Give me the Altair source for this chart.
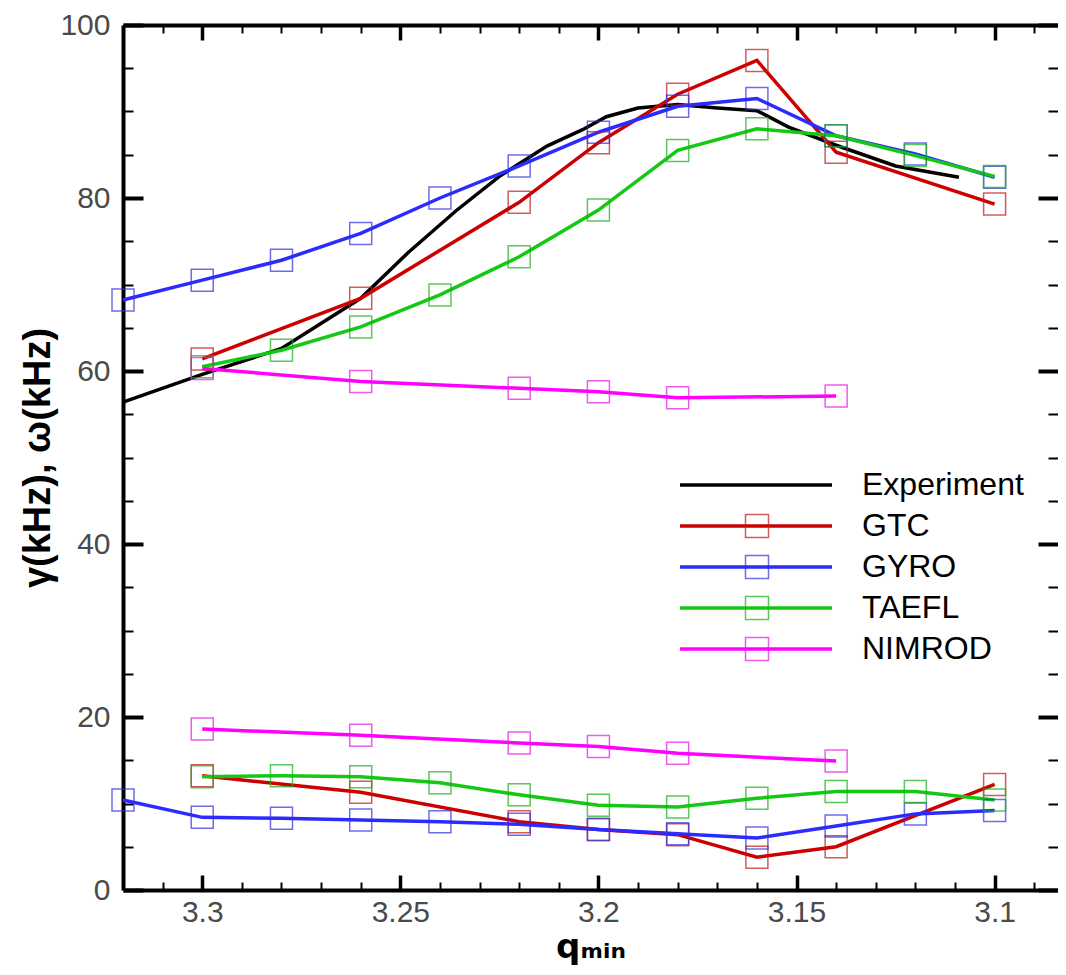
import altair as alt
import pandas as pd

SERIES = ["Experiment", "GTC", "GYRO", "TAEFL", "NIMROD"]
LINE_COLORS = ["#000000", "#cc0000", "#2b2bff", "#14c814", "#ff00ff"]
MARKER_COLORS = ["transparent", "#c01818", "#3030e0", "#18b018", "#e818e8"]

# Experiment (frequency only)
EXP_Q = [3.32, 3.30, 3.28, 3.26, 3.248, 3.236, 3.225, 3.213, 3.204, 3.198, 3.19,
         3.18, 3.17, 3.16, 3.152, 3.14, 3.125, 3.109]
EXP_W = [56.4, 59.6, 62.6, 68.4, 73.7, 78.5, 82.5, 86.0, 87.9, 89.4, 90.4,
         90.8, 90.4, 90.1, 88.2, 86.1, 83.7, 82.4]

GTC_Q = [3.3, 3.26, 3.22, 3.2, 3.18, 3.16, 3.14, 3.1]
GTC_W = [61.4, 68.4, 79.5, 86.4, 92.0, 95.9, 85.3, 79.3]
GTC_G = [13.2, 11.3, 7.9, 7.0, 6.4, 3.8, 5.0, 12.2]

GYRO_Q = [3.32, 3.3, 3.28, 3.26, 3.24, 3.22, 3.2, 3.18, 3.16, 3.14, 3.12, 3.1]
GYRO_W = [68.2, 70.5, 72.8, 75.9, 80.0, 83.7, 87.6, 90.6, 91.5, 87.2, 85.1, 82.4]
GYRO_G = [10.4, 8.4, 8.3, 8.1, 7.9, 7.6, 7.0, 6.5, 6.0, 7.4, 8.8, 9.2]

TAEFL_Q = [3.3, 3.28, 3.26, 3.24, 3.22, 3.2, 3.18, 3.16, 3.14, 3.12, 3.1]
TAEFL_W = [60.5, 62.4, 65.1, 68.8, 73.2, 78.6, 85.5, 88.0, 87.2, 84.9, 82.5]
TAEFL_G = [13.1, 13.2, 13.1, 12.4, 11.0, 9.8, 9.6, 10.6, 11.4, 11.4, 10.4]

NIMROD_Q = [3.3, 3.26, 3.22, 3.2, 3.18, 3.14]
NIMROD_W = [60.3, 58.8, 58.0, 57.6, 56.9, 57.1]
NIMROD_G = [18.6, 17.9, 17.0, 16.6, 15.8, 14.9]

X_MAJOR = [3.3, 3.25, 3.2, 3.15, 3.1]
X_MINOR = [3.31, 3.29, 3.28, 3.27, 3.26, 3.24, 3.23, 3.22, 3.21, 3.19, 3.18,
           3.17, 3.16, 3.14, 3.13, 3.12, 3.11, 3.09]
Y_MAJOR = [0, 20, 40, 60, 80, 100]
Y_MINOR = [5, 10, 15, 25, 30, 35, 45, 50, 55, 65, 70, 75, 85, 90, 95]
X_DOMAIN = [3.32, 3.084]
Y_DOMAIN = [0, 100]

rows = []
def add(series, branch, qs, vs, marker):
    for q, v in zip(qs, vs):
        rows.append({"series": series, "code": SERIES.index(series),
                     "branch": branch, "q": q, "v": v, "marker": marker})

add("Experiment", "w", EXP_Q, EXP_W, False)
add("GTC", "w", GTC_Q, GTC_W, True)
add("GTC", "g", GTC_Q, GTC_G, True)
add("GYRO", "w", GYRO_Q, GYRO_W, True)
add("GYRO", "g", GYRO_Q, GYRO_G, True)
add("TAEFL", "w", TAEFL_Q, TAEFL_W, True)
add("TAEFL", "g", TAEFL_Q, TAEFL_G, True)
add("NIMROD", "w", NIMROD_Q, NIMROD_W, True)
add("NIMROD", "g", NIMROD_Q, NIMROD_G, True)
df = pd.DataFrame(rows)
df_pts = df[df["marker"]]

xs = alt.Scale(domain=X_DOMAIN, nice=False, zero=False)
ys = alt.Scale(domain=Y_DOMAIN, nice=False, zero=False)

LABEL_FONT = "Liberation Sans"
LABEL_COLOR = "#4a4a4a"
TICK_FONT = 30

def plain(orient, values, size, width, offset):
    return alt.Axis(orient=orient, values=values, tickSize=size, tickWidth=width,
                    tickColor="black", offset=offset, domain=False, labels=False,
                    grid=False, title=None)

def frame(orient):
    return alt.Axis(orient=orient, ticks=False, labels=False, grid=False,
                    domain=True, domainColor="black", domainWidth=4, title=None)

LEG_X = 555
LEG_Y = 445
ROW_H = 30
ROW_PAD = 9
LEG_FONT = 32

lines = alt.Chart(df).mark_line(strokeWidth=3.5).encode(
    x=alt.X("q:Q", scale=xs, axis=alt.Axis(
        orient="bottom", values=X_MAJOR, format=".2~f", tickSize=15, tickWidth=3.5,
        tickColor="black", offset=-15, domain=False, grid=False,
        labelFont=LABEL_FONT, labelFontSize=TICK_FONT, labelColor=LABEL_COLOR,
        labelPadding=7, title="qₘᵢₙ", titleFont="DejaVu Sans", titleFontSize=34,
        titleFontWeight="bold", titleColor="black", titlePadding=3)),
    y=alt.Y("v:Q", scale=ys, axis=alt.Axis(
        orient="left", values=Y_MAJOR, format="d", tickSize=20, tickWidth=4,
        tickColor="black", offset=-20, domain=False, grid=False,
        labelFont=LABEL_FONT, labelFontSize=TICK_FONT, labelColor=LABEL_COLOR,
        labelPadding=13, title="γ(kHz), ω(kHz)", titleFont="Liberation Sans",
        titleFontSize=38, titleFontWeight="bold", titleColor="black", titlePadding=2)),
    color=alt.Color("series:N", scale=alt.Scale(domain=SERIES, range=LINE_COLORS),
                    legend=alt.Legend(orient="none", legendX=LEG_X, legendY=LEG_Y,
                                      symbolType="M-1,0H1", symbolSize=23104,
                                      symbolStrokeWidth=3.5, labelFont=LABEL_FONT,
                                      labelFontSize=LEG_FONT, labelColor="black",
                                      labelLimit=400, labelOffset=28, rowPadding=ROW_PAD,
                                      padding=0, clipHeight=ROW_H, title=None)),
    detail="branch:N",
)

points = alt.Chart(df_pts).mark_point(shape="square", filled=False, size=484,
                                      strokeWidth=1.5).encode(
    x=alt.X("q:Q", scale=xs, axis=plain("bottom", X_MINOR, 8, 2, -8)),
    y=alt.Y("v:Q", scale=ys, axis=plain("left", Y_MINOR, 10, 2, -10)),
    stroke=alt.Stroke("code:O", scale=alt.Scale(domain=[0, 1, 2, 3, 4], range=MARKER_COLORS),
                      legend=alt.Legend(orient="none", legendX=LEG_X + 63, legendY=LEG_Y,
                                        symbolType="square", symbolSize=529,
                                        symbolStrokeWidth=1.5, symbolFillColor="transparent",
                                        labelFont=LABEL_FONT, labelFontSize=LEG_FONT,
                                        labelOpacity=0, labelLimit=400, labelOffset=28,
                                        rowPadding=ROW_PAD, padding=0, clipHeight=ROW_H,
                                        title=None)),
)

def axis_layer(xaxis, yaxis):
    return alt.Chart(df).mark_point(opacity=0).encode(
        x=alt.X("q:Q", scale=xs, axis=xaxis),
        y=alt.Y("v:Q", scale=ys, axis=yaxis),
    )

top_major = axis_layer(plain("top", X_MAJOR, 15, 3.5, -15), plain("right", Y_MAJOR, 20, 4, -20))
top_minor = axis_layer(plain("top", X_MINOR, 8, 2, -8), plain("right", Y_MINOR, 10, 2, -10))
frame_a = axis_layer(frame("bottom"), frame("left"))
frame_b = axis_layer(frame("top"), None)

chart = alt.layer(top_major, top_minor, frame_a, frame_b, lines, points).resolve_axis(
    x="independent", y="independent"
).properties(
    width=935, height=865,
    autosize=alt.AutoSizeParams(type="none"),
    padding={"left": 115, "top": 17, "right": 0, "bottom": 77},
).configure_view(stroke=None).configure(background="white")

chart.save("out.html", embed_options={"renderer": "svg", "actions": False})
